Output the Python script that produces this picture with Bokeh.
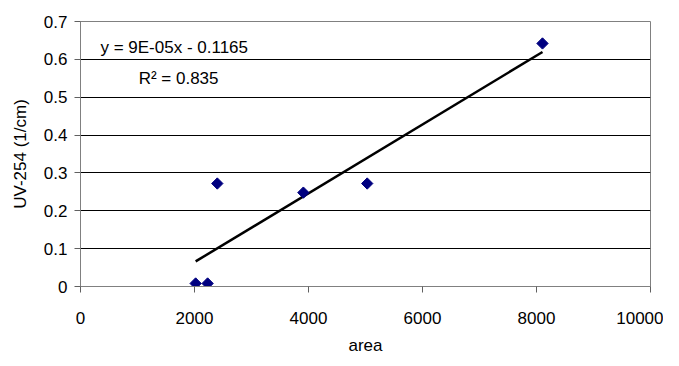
import numpy as np
from bokeh.plotting import figure
from bokeh.models import Label, FixedTicker, Range1d
from bokeh.embed import file_html
from bokeh.resources import INLINE

area = [2020, 2230, 2400, 3910, 5030, 8105]
uv254 = [0.008, 0.008, 0.272, 0.248, 0.272, 0.642]
x_ticks = [0, 2000, 4000, 6000, 8000, 10000]
y_ticks = [0, 0.1, 0.2, 0.3, 0.4, 0.5, 0.6, 0.7]
eq_text = "y = 9E-05x - 0.1165"
r2_text = "R\u00b2 = 0.835"

FONT = "Liberation Sans"
FS = "17px"

p = figure(width=663, height=357, output_backend="svg", toolbar_location=None,
           x_range=Range1d(0, 10000), y_range=Range1d(0, 0.7),
           min_border_left=80, min_border_right=13, min_border_top=21, min_border_bottom=71)

p.background_fill_color = "white"
p.outline_line_color = "#808080"
p.outline_line_width = 1

p.xgrid.grid_line_color = None
p.ygrid.grid_line_color = "black"
p.ygrid.grid_line_width = 1
p.ygrid.ticker = FixedTicker(ticks=y_ticks)

p.xaxis.ticker = FixedTicker(ticks=x_ticks)
p.yaxis.ticker = FixedTicker(ticks=y_ticks)
p.yaxis.formatter.use_scientific = False

for ax in (p.xaxis, p.yaxis):
    ax.axis_line_color = "#808080"
    ax.major_tick_line_color = "#606060"
    ax.major_tick_in = 0
    ax.major_tick_out = 6
    ax.minor_tick_line_color = None
    ax.major_label_text_font = FONT
    ax.major_label_text_font_size = FS
    ax.major_label_text_color = "black"
    ax.axis_label_text_font = FONT
    ax.axis_label_text_font_size = FS
    ax.axis_label_text_font_style = "normal"
    ax.axis_label_text_color = "black"

p.xaxis.axis_label = "area"
p.xaxis.major_label_standoff = 19
p.xaxis.axis_label_standoff = 9
p.yaxis.axis_label = "UV-254 (1/cm)"
p.yaxis.major_label_standoff = 7
p.yaxis.axis_label_standoff = 11

slope, intercept = np.polyfit(area, uv254, 1)
xl = np.array([min(area), max(area)])
p.line(xl, slope * xl + intercept, line_color="black", line_width=2.5)

p.scatter(area, uv254, marker="square", angle=np.pi / 4, size=8,
          fill_color="#000080", line_color="#000080")

p.add_layout(Label(x=350, y=0.632, text=eq_text, text_font=FONT, text_font_size=FS,
                   text_baseline="middle", text_color="black"))
p.add_layout(Label(x=1020, y=0.55, text=r2_text, text_font=FONT, text_font_size=FS,
                   text_baseline="middle", text_color="black"))

open("out.html", "w").write(file_html(p, INLINE))
